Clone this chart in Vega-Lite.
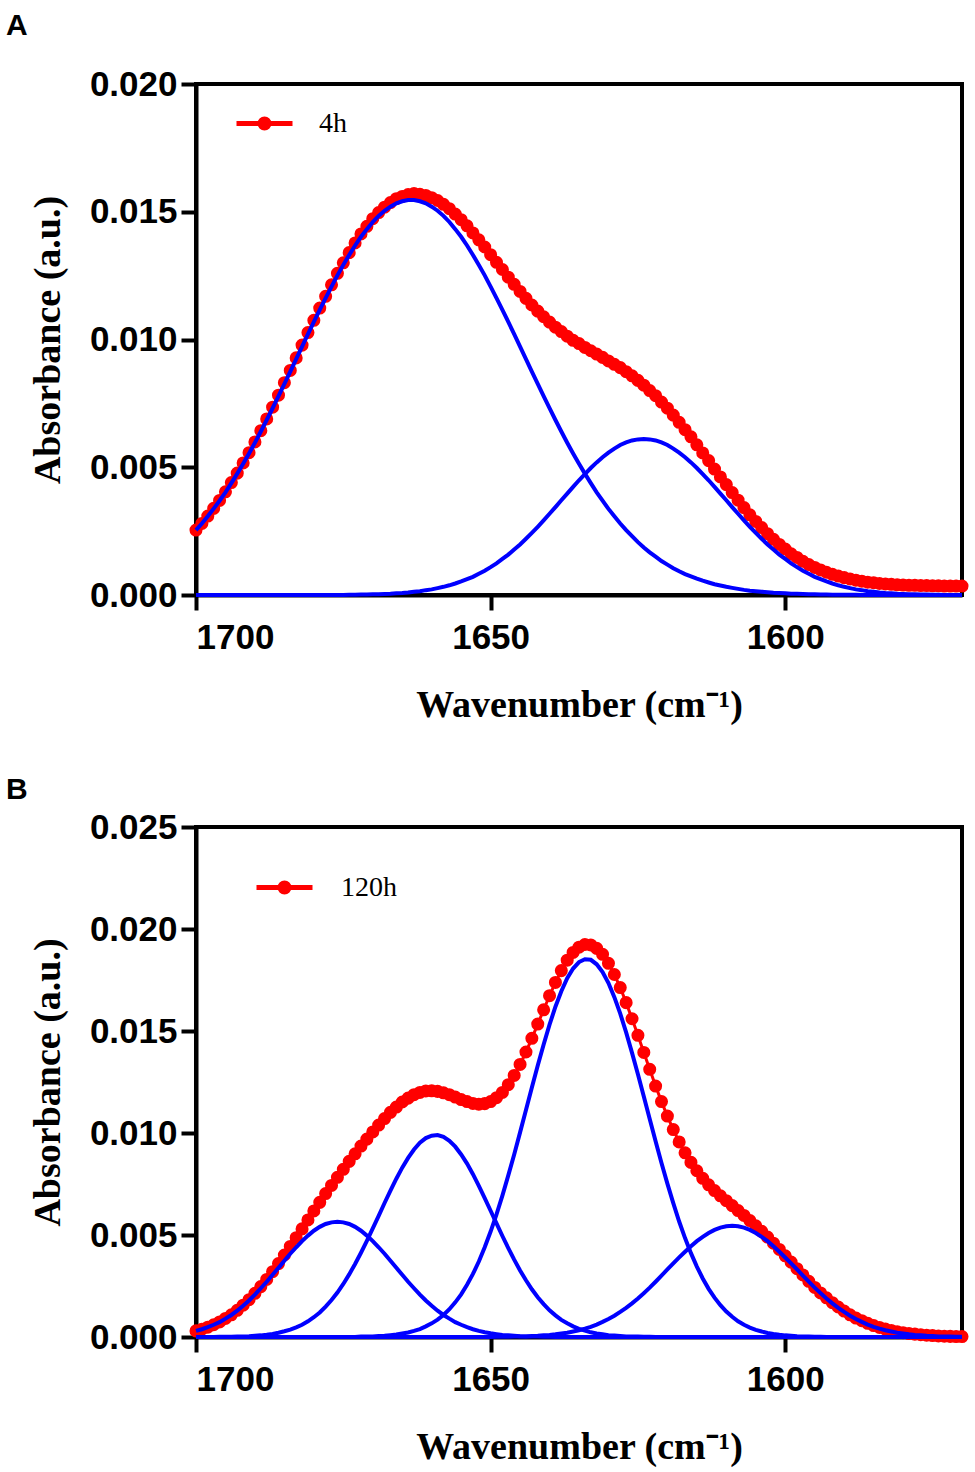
{
  "$schema": "https://vega.github.io/schema/vega-lite/v6.json",
  "padding": {"left": 4, "top": 9, "right": 5, "bottom": 0},
  "background": "white",
  "config": {
    "view": {"stroke": "black", "strokeWidth": 4},
    "font": "Liberation Sans",
    "axis": {
      "grid": false, "domainColor": "black", "domainWidth": 4,
      "tickColor": "black", "tickWidth": 4, "tickSize": 15,
      "labelFont": "Liberation Sans", "labelFontWeight": "bold", "labelFontSize": 35, "labelColor": "black",
      "titleFont": "Liberation Serif", "titleFontWeight": "bold", "titleFontSize": 38, "titleColor": "black"
    },
    "axisX": {"labelPadding": 10, "titlePadding": 31},
    "axisY": {"labelPadding": 4, "titlePadding": 22},
    "title": {"font": "Liberation Sans", "fontWeight": "bold", "fontSize": 30, "anchor": "start", "frame": "group", "dx": -190, "color": "black"},
    "legend": {
      "title": null,
      "labelFont": "Liberation Serif", "labelFontWeight": "normal", "labelFontSize": 28, "labelColor": "black",
      "symbolType": "M-1,0H1M0.16,0A0.16,0.16,0,1,1,-0.16,0A0.16,0.16,0,1,1,0.16,0Z",
      "symbolSize": 3136, "symbolStrokeWidth": 5, "symbolFillColor": "#ff0000", "symbolStrokeColor": "#ff0000",
      "orient": "none", "padding": 0
    }
  },
  "datasets": {
    "a": [
      {"w":1700,"red":0.00254,"g1":0.00254,"g2":0},
      {"w":1699,"red":0.00280,"g1":0.00280,"g2":0},
      {"w":1698,"red":0.00309,"g1":0.00308,"g2":0},
      {"w":1697,"red":0.00339,"g1":0.00338,"g2":0},
      {"w":1696,"red":0.00370,"g1":0.00369,"g2":0},
      {"w":1695,"red":0.00404,"g1":0.00402,"g2":0},
      {"w":1694,"red":0.00440,"g1":0.00438,"g2":0},
      {"w":1693,"red":0.00477,"g1":0.00475,"g2":0},
      {"w":1692,"red":0.00517,"g1":0.00514,"g2":0},
      {"w":1691,"red":0.00557,"g1":0.00554,"g2":0},
      {"w":1690,"red":0.00599,"g1":0.00596,"g2":0},
      {"w":1689,"red":0.00643,"g1":0.00640,"g2":0},
      {"w":1688,"red":0.00689,"g1":0.00685,"g2":0},
      {"w":1687,"red":0.00735,"g1":0.00731,"g2":0},
      {"w":1686,"red":0.00782,"g1":0.00778,"g2":0},
      {"w":1685,"red":0.00831,"g1":0.00826,"g2":0},
      {"w":1684,"red":0.00879,"g1":0.00874,"g2":0},
      {"w":1683,"red":0.00928,"g1":0.00923,"g2":0},
      {"w":1682,"red":0.00978,"g1":0.00972,"g2":0},
      {"w":1681,"red":0.01027,"g1":0.01021,"g2":0},
      {"w":1680,"red":0.01075,"g1":0.01069,"g2":0},
      {"w":1679,"red":0.01123,"g1":0.01116,"g2":0},
      {"w":1678,"red":0.01169,"g1":0.01162,"g2":0},
      {"w":1677,"red":0.01214,"g1":0.01207,"g2":0},
      {"w":1676,"red":0.01259,"g1":0.01251,"g2":0},
      {"w":1675,"red":0.01300,"g1":0.01292,"g2":0},
      {"w":1674,"red":0.01340,"g1":0.01331,"g2":0.00001},
      {"w":1673,"red":0.01378,"g1":0.01368,"g2":0.00001},
      {"w":1672,"red":0.01413,"g1":0.01402,"g2":0.00002},
      {"w":1671,"red":0.01443,"g1":0.01432,"g2":0.00002},
      {"w":1670,"red":0.01473,"g1":0.01460,"g2":0.00003},
      {"w":1669,"red":0.01497,"g1":0.01484,"g2":0.00003},
      {"w":1668,"red":0.01518,"g1":0.01504,"g2":0.00004},
      {"w":1667,"red":0.01536,"g1":0.01520,"g2":0.00005},
      {"w":1666,"red":0.01551,"g1":0.01533,"g2":0.00007},
      {"w":1665,"red":0.01560,"g1":0.01541,"g2":0.00008},
      {"w":1664,"red":0.01567,"g1":0.01546,"g2":0.00010},
      {"w":1663,"red":0.01571,"g1":0.01546,"g2":0.00013},
      {"w":1662,"red":0.01568,"g1":0.01541,"g2":0.00015},
      {"w":1661,"red":0.01564,"g1":0.01533,"g2":0.00019},
      {"w":1660,"red":0.01555,"g1":0.01520,"g2":0.00022},
      {"w":1659,"red":0.01544,"g1":0.01504,"g2":0.00027},
      {"w":1658,"red":0.01529,"g1":0.01484,"g2":0.00032},
      {"w":1657,"red":0.01512,"g1":0.01460,"g2":0.00038},
      {"w":1656,"red":0.01491,"g1":0.01432,"g2":0.00045},
      {"w":1655,"red":0.01469,"g1":0.01402,"g2":0.00053},
      {"w":1654,"red":0.01445,"g1":0.01368,"g2":0.00062},
      {"w":1653,"red":0.01417,"g1":0.01331,"g2":0.00071},
      {"w":1652,"red":0.01390,"g1":0.01292,"g2":0.00083},
      {"w":1651,"red":0.01362,"g1":0.01251,"g2":0.00095},
      {"w":1650,"red":0.01332,"g1":0.01207,"g2":0.00109},
      {"w":1649,"red":0.01302,"g1":0.01162,"g2":0.00124},
      {"w":1648,"red":0.01274,"g1":0.01116,"g2":0.00141},
      {"w":1647,"red":0.01244,"g1":0.01069,"g2":0.00158},
      {"w":1646,"red":0.01216,"g1":0.01021,"g2":0.00178},
      {"w":1645,"red":0.01188,"g1":0.00972,"g2":0.00198},
      {"w":1644,"red":0.01161,"g1":0.00923,"g2":0.00220},
      {"w":1643,"red":0.01135,"g1":0.00874,"g2":0.00243},
      {"w":1642,"red":0.01111,"g1":0.00826,"g2":0.00267},
      {"w":1641,"red":0.01089,"g1":0.00778,"g2":0.00292},
      {"w":1640,"red":0.01068,"g1":0.00731,"g2":0.00318},
      {"w":1639,"red":0.01048,"g1":0.00685,"g2":0.00344},
      {"w":1638,"red":0.01031,"g1":0.00640,"g2":0.00371},
      {"w":1637,"red":0.01013,"g1":0.00596,"g2":0.00397},
      {"w":1636,"red":0.00997,"g1":0.00554,"g2":0.00423},
      {"w":1635,"red":0.00984,"g1":0.00514,"g2":0.00449},
      {"w":1634,"red":0.00969,"g1":0.00475,"g2":0.00473},
      {"w":1633,"red":0.00956,"g1":0.00438,"g2":0.00497},
      {"w":1632,"red":0.00943,"g1":0.00402,"g2":0.00519},
      {"w":1631,"red":0.00930,"g1":0.00369,"g2":0.00539},
      {"w":1630,"red":0.00916,"g1":0.00337,"g2":0.00557},
      {"w":1629,"red":0.00903,"g1":0.00308,"g2":0.00573},
      {"w":1628,"red":0.00890,"g1":0.00280,"g2":0.00587},
      {"w":1627,"red":0.00874,"g1":0.00254,"g2":0.00597},
      {"w":1626,"red":0.00858,"g1":0.00230,"g2":0.00605},
      {"w":1625,"red":0.00840,"g1":0.00207,"g2":0.00609},
      {"w":1624,"red":0.00821,"g1":0.00186,"g2":0.00611},
      {"w":1623,"red":0.00800,"g1":0.00167,"g2":0.00609},
      {"w":1622,"red":0.00780,"g1":0.00150,"g2":0.00605},
      {"w":1621,"red":0.00755,"g1":0.00133,"g2":0.00597},
      {"w":1620,"red":0.00731,"g1":0.00119,"g2":0.00587},
      {"w":1619,"red":0.00704,"g1":0.00105,"g2":0.00573},
      {"w":1618,"red":0.00676,"g1":0.00093,"g2":0.00557},
      {"w":1617,"red":0.00647,"g1":0.00082,"g2":0.00539},
      {"w":1616,"red":0.00619,"g1":0.00073,"g2":0.00519},
      {"w":1615,"red":0.00588,"g1":0.00064,"g2":0.00497},
      {"w":1614,"red":0.00556,"g1":0.00056,"g2":0.00473},
      {"w":1613,"red":0.00526,"g1":0.00049,"g2":0.00449},
      {"w":1612,"red":0.00493,"g1":0.00042,"g2":0.00423},
      {"w":1611,"red":0.00462,"g1":0.00037,"g2":0.00397},
      {"w":1610,"red":0.00432,"g1":0.00032,"g2":0.00371},
      {"w":1609,"red":0.00401,"g1":0.00028,"g2":0.00344},
      {"w":1608,"red":0.00371,"g1":0.00024,"g2":0.00318},
      {"w":1607,"red":0.00342,"g1":0.00020,"g2":0.00292},
      {"w":1606,"red":0.00314,"g1":0.00017,"g2":0.00267},
      {"w":1605,"red":0.00288,"g1":0.00015,"g2":0.00243},
      {"w":1604,"red":0.00264,"g1":0.00013,"g2":0.00220},
      {"w":1603,"red":0.00240,"g1":0.00011,"g2":0.00198},
      {"w":1602,"red":0.00218,"g1":0.00009,"g2":0.00178},
      {"w":1601,"red":0.00198,"g1":0.00008,"g2":0.00158},
      {"w":1600,"red":0.00180,"g1":0.00007,"g2":0.00141},
      {"w":1599,"red":0.00161,"g1":0.00005,"g2":0.00124},
      {"w":1598,"red":0.00147,"g1":0.00005,"g2":0.00109},
      {"w":1597,"red":0.00132,"g1":0.00004,"g2":0.00095},
      {"w":1596,"red":0.00119,"g1":0.00003,"g2":0.00083},
      {"w":1595,"red":0.00108,"g1":0.00003,"g2":0.00071},
      {"w":1594,"red":0.00098,"g1":0.00002,"g2":0.00062},
      {"w":1593,"red":0.00089,"g1":0.00002,"g2":0.00053},
      {"w":1592,"red":0.00081,"g1":0.00001,"g2":0.00045},
      {"w":1591,"red":0.00074,"g1":0.00001,"g2":0.00038},
      {"w":1590,"red":0.00068,"g1":0.00001,"g2":0.00032},
      {"w":1589,"red":0.00063,"g1":0.00001,"g2":0.00027},
      {"w":1588,"red":0.00058,"g1":0.00001,"g2":0.00022},
      {"w":1587,"red":0.00054,"g1":0,"g2":0.00019},
      {"w":1586,"red":0.00050,"g1":0,"g2":0.00015},
      {"w":1585,"red":0.00048,"g1":0,"g2":0.00013},
      {"w":1584,"red":0.00045,"g1":0,"g2":0.00010},
      {"w":1583,"red":0.00043,"g1":0,"g2":0.00008},
      {"w":1582,"red":0.00042,"g1":0,"g2":0.00007},
      {"w":1581,"red":0.00040,"g1":0,"g2":0.00005},
      {"w":1580,"red":0.00039,"g1":0,"g2":0.00004},
      {"w":1579,"red":0.00038,"g1":0,"g2":0.00003},
      {"w":1578,"red":0.00038,"g1":0,"g2":0.00003},
      {"w":1577,"red":0.00037,"g1":0,"g2":0.00002},
      {"w":1576,"red":0.00037,"g1":0,"g2":0.00002},
      {"w":1575,"red":0.00036,"g1":0,"g2":0.00001},
      {"w":1574,"red":0.00036,"g1":0,"g2":0.00001},
      {"w":1573,"red":0.00035,"g1":0,"g2":0},
      {"w":1572,"red":0.00035,"g1":0,"g2":0},
      {"w":1571,"red":0.00035,"g1":0,"g2":0},
      {"w":1570,"red":0.00035,"g1":0,"g2":0}
    ],
    "b": [
      {"w":1700,"red":0.00030,"g1":0.00030,"g2":0,"g3":0,"g4":0},
      {"w":1699,"red":0.00038,"g1":0.00038,"g2":0,"g3":0,"g4":0},
      {"w":1698,"red":0.00048,"g1":0.00048,"g2":0,"g3":0,"g4":0},
      {"w":1697,"red":0.00060,"g1":0.00060,"g2":0,"g3":0,"g4":0},
      {"w":1696,"red":0.00074,"g1":0.00073,"g2":0.00001,"g3":0,"g4":0},
      {"w":1695,"red":0.00091,"g1":0.00090,"g2":0.00001,"g3":0,"g4":0},
      {"w":1694,"red":0.00109,"g1":0.00108,"g2":0.00001,"g3":0,"g4":0},
      {"w":1693,"red":0.00131,"g1":0.00129,"g2":0.00002,"g3":0,"g4":0},
      {"w":1692,"red":0.00156,"g1":0.00153,"g2":0.00003,"g3":0,"g4":0},
      {"w":1691,"red":0.00183,"g1":0.00179,"g2":0.00004,"g3":0,"g4":0},
      {"w":1690,"red":0.00214,"g1":0.00208,"g2":0.00006,"g3":0,"g4":0},
      {"w":1689,"red":0.00247,"g1":0.00239,"g2":0.00008,"g3":0,"g4":0},
      {"w":1688,"red":0.00282,"g1":0.00271,"g2":0.00011,"g3":0,"g4":0},
      {"w":1687,"red":0.00320,"g1":0.00305,"g2":0.00015,"g3":0,"g4":0},
      {"w":1686,"red":0.00360,"g1":0.00339,"g2":0.00021,"g3":0,"g4":0},
      {"w":1685,"red":0.00402,"g1":0.00374,"g2":0.00028,"g3":0,"g4":0},
      {"w":1684,"red":0.00444,"g1":0.00408,"g2":0.00036,"g3":0,"g4":0},
      {"w":1683,"red":0.00487,"g1":0.00440,"g2":0.00047,"g3":0,"g4":0},
      {"w":1682,"red":0.00530,"g1":0.00470,"g2":0.00060,"g3":0,"g4":0},
      {"w":1681,"red":0.00574,"g1":0.00497,"g2":0.00077,"g3":0,"g4":0},
      {"w":1680,"red":0.00618,"g1":0.00521,"g2":0.00097,"g3":0,"g4":0},
      {"w":1679,"red":0.00660,"g1":0.00540,"g2":0.00120,"g3":0,"g4":0},
      {"w":1678,"red":0.00703,"g1":0.00554,"g2":0.00149,"g3":0,"g4":0},
      {"w":1677,"red":0.00743,"g1":0.00562,"g2":0.00181,"g3":0,"g4":0},
      {"w":1676,"red":0.00783,"g1":0.00565,"g2":0.00218,"g3":0,"g4":0},
      {"w":1675,"red":0.00822,"g1":0.00562,"g2":0.00260,"g3":0,"g4":0},
      {"w":1674,"red":0.00861,"g1":0.00554,"g2":0.00307,"g3":0,"g4":0},
      {"w":1673,"red":0.00898,"g1":0.00540,"g2":0.00358,"g3":0,"g4":0},
      {"w":1672,"red":0.00936,"g1":0.00521,"g2":0.00413,"g3":0.00002,"g4":0},
      {"w":1671,"red":0.00970,"g1":0.00497,"g2":0.00471,"g3":0.00002,"g4":0},
      {"w":1670,"red":0.01005,"g1":0.00470,"g2":0.00532,"g3":0.00003,"g4":0},
      {"w":1669,"red":0.01039,"g1":0.00440,"g2":0.00594,"g3":0.00005,"g4":0},
      {"w":1668,"red":0.01071,"g1":0.00408,"g2":0.00657,"g3":0.00006,"g4":0},
      {"w":1667,"red":0.01101,"g1":0.00374,"g2":0.00718,"g3":0.00009,"g4":0},
      {"w":1666,"red":0.01127,"g1":0.00339,"g2":0.00776,"g3":0.00012,"g4":0},
      {"w":1665,"red":0.01152,"g1":0.00305,"g2":0.00830,"g3":0.00017,"g4":0},
      {"w":1664,"red":0.01171,"g1":0.00271,"g2":0.00878,"g3":0.00022,"g4":0},
      {"w":1663,"red":0.01188,"g1":0.00239,"g2":0.00919,"g3":0.00030,"g4":0},
      {"w":1662,"red":0.01199,"g1":0.00208,"g2":0.00952,"g3":0.00039,"g4":0},
      {"w":1661,"red":0.01206,"g1":0.00179,"g2":0.00975,"g3":0.00052,"g4":0},
      {"w":1660,"red":0.01207,"g1":0.00153,"g2":0.00987,"g3":0.00067,"g4":0},
      {"w":1659,"red":0.01204,"g1":0.00129,"g2":0.00990,"g3":0.00085,"g4":0},
      {"w":1658,"red":0.01197,"g1":0.00108,"g2":0.00981,"g3":0.00108,"g4":0},
      {"w":1657,"red":0.01188,"g1":0.00090,"g2":0.00962,"g3":0.00136,"g4":0},
      {"w":1656,"red":0.01176,"g1":0.00073,"g2":0.00933,"g3":0.00170,"g4":0},
      {"w":1655,"red":0.01164,"g1":0.00060,"g2":0.00895,"g3":0.00209,"g4":0},
      {"w":1654,"red":0.01154,"g1":0.00048,"g2":0.00850,"g3":0.00256,"g4":0},
      {"w":1653,"red":0.01145,"g1":0.00038,"g2":0.00798,"g3":0.00309,"g4":0},
      {"w":1652,"red":0.01141,"g1":0.00030,"g2":0.00741,"g3":0.00370,"g4":0},
      {"w":1651,"red":0.01144,"g1":0.00023,"g2":0.00681,"g3":0.00440,"g4":0},
      {"w":1650,"red":0.01154,"g1":0.00018,"g2":0.00619,"g3":0.00517,"g4":0},
      {"w":1649,"red":0.01173,"g1":0.00014,"g2":0.00557,"g3":0.00601,"g4":0.00001},
      {"w":1648,"red":0.01199,"g1":0.00010,"g2":0.00495,"g3":0.00693,"g4":0.00001},
      {"w":1647,"red":0.01237,"g1":0.00008,"g2":0.00436,"g3":0.00792,"g4":0.00001},
      {"w":1646,"red":0.01282,"g1":0.00006,"g2":0.00379,"g3":0.00895,"g4":0.00002},
      {"w":1645,"red":0.01336,"g1":0.00004,"g2":0.00326,"g3":0.01003,"g4":0.00003},
      {"w":1644,"red":0.01397,"g1":0.00003,"g2":0.00278,"g3":0.01113,"g4":0.00003},
      {"w":1643,"red":0.01464,"g1":0.00002,"g2":0.00234,"g3":0.01223,"g4":0.00005},
      {"w":1642,"red":0.01534,"g1":0.00002,"g2":0.00195,"g3":0.01331,"g4":0.00006},
      {"w":1641,"red":0.01604,"g1":0.00001,"g2":0.00161,"g3":0.01434,"g4":0.00008},
      {"w":1640,"red":0.01673,"g1":0.00001,"g2":0.00131,"g3":0.01531,"g4":0.00010},
      {"w":1639,"red":0.01738,"g1":0,"g2":0.00106,"g3":0.01619,"g4":0.00013},
      {"w":1638,"red":0.01796,"g1":0,"g2":0.00084,"g3":0.01695,"g4":0.00017},
      {"w":1637,"red":0.01847,"g1":0,"g2":0.00067,"g3":0.01759,"g4":0.00021},
      {"w":1636,"red":0.01885,"g1":0,"g2":0.00052,"g3":0.01806,"g4":0.00027},
      {"w":1635,"red":0.01911,"g1":0,"g2":0.00040,"g3":0.01838,"g4":0.00033},
      {"w":1634,"red":0.01924,"g1":0,"g2":0.00031,"g3":0.01852,"g4":0.00041},
      {"w":1633,"red":0.01922,"g1":0,"g2":0.00023,"g3":0.01849,"g4":0.00050},
      {"w":1632,"red":0.01905,"g1":0,"g2":0.00017,"g3":0.01827,"g4":0.00061},
      {"w":1631,"red":0.01876,"g1":0,"g2":0.00013,"g3":0.01789,"g4":0.00074},
      {"w":1630,"red":0.01832,"g1":0,"g2":0.00009,"g3":0.01735,"g4":0.00088},
      {"w":1629,"red":0.01777,"g1":0,"g2":0.00007,"g3":0.01666,"g4":0.00104},
      {"w":1628,"red":0.01713,"g1":0,"g2":0.00005,"g3":0.01585,"g4":0.00123},
      {"w":1627,"red":0.01639,"g1":0,"g2":0.00003,"g3":0.01493,"g4":0.00143},
      {"w":1626,"red":0.01560,"g1":0,"g2":0.00002,"g3":0.01393,"g4":0.00165},
      {"w":1625,"red":0.01479,"g1":0,"g2":0.00002,"g3":0.01288,"g4":0.00189},
      {"w":1624,"red":0.01395,"g1":0,"g2":0.00001,"g3":0.01179,"g4":0.00215},
      {"w":1623,"red":0.01312,"g1":0,"g2":0.00001,"g3":0.01069,"g4":0.00242},
      {"w":1622,"red":0.01230,"g1":0,"g2":0,"g3":0.00959,"g4":0.00271},
      {"w":1621,"red":0.01154,"g1":0,"g2":0,"g3":0.00853,"g4":0.00301},
      {"w":1620,"red":0.01083,"g1":0,"g2":0,"g3":0.00752,"g4":0.00331},
      {"w":1619,"red":0.01017,"g1":0,"g2":0,"g3":0.00656,"g4":0.00361},
      {"w":1618,"red":0.00956,"g1":0,"g2":0,"g3":0.00566,"g4":0.00390},
      {"w":1617,"red":0.00903,"g1":0,"g2":0,"g3":0.00485,"g4":0.00418},
      {"w":1616,"red":0.00856,"g1":0,"g2":0,"g3":0.00411,"g4":0.00445},
      {"w":1615,"red":0.00815,"g1":0,"g2":0,"g3":0.00345,"g4":0.00470},
      {"w":1614,"red":0.00778,"g1":0,"g2":0,"g3":0.00287,"g4":0.00491},
      {"w":1613,"red":0.00746,"g1":0,"g2":0,"g3":0.00236,"g4":0.00510},
      {"w":1612,"red":0.00718,"g1":0,"g2":0,"g3":0.00193,"g4":0.00525},
      {"w":1611,"red":0.00692,"g1":0,"g2":0,"g3":0.00156,"g4":0.00536},
      {"w":1610,"red":0.00668,"g1":0,"g2":0,"g3":0.00125,"g4":0.00543},
      {"w":1609,"red":0.00644,"g1":0,"g2":0,"g3":0.00099,"g4":0.00545},
      {"w":1608,"red":0.00620,"g1":0,"g2":0,"g3":0.00077,"g4":0.00543},
      {"w":1607,"red":0.00596,"g1":0,"g2":0,"g3":0.00060,"g4":0.00536},
      {"w":1606,"red":0.00571,"g1":0,"g2":0,"g3":0.00046,"g4":0.00525},
      {"w":1605,"red":0.00545,"g1":0,"g2":0,"g3":0.00035,"g4":0.00510},
      {"w":1604,"red":0.00518,"g1":0,"g2":0,"g3":0.00027,"g4":0.00491},
      {"w":1603,"red":0.00490,"g1":0,"g2":0,"g3":0.00020,"g4":0.00470},
      {"w":1602,"red":0.00460,"g1":0,"g2":0,"g3":0.00015,"g4":0.00445},
      {"w":1601,"red":0.00429,"g1":0,"g2":0,"g3":0.00011,"g4":0.00418},
      {"w":1600,"red":0.00398,"g1":0,"g2":0,"g3":0.00008,"g4":0.00390},
      {"w":1599,"red":0.00367,"g1":0,"g2":0,"g3":0.00006,"g4":0.00361},
      {"w":1598,"red":0.00335,"g1":0,"g2":0,"g3":0.00004,"g4":0.00331},
      {"w":1597,"red":0.00304,"g1":0,"g2":0,"g3":0.00003,"g4":0.00301},
      {"w":1596,"red":0.00273,"g1":0,"g2":0,"g3":0.00002,"g4":0.00271},
      {"w":1595,"red":0.00243,"g1":0,"g2":0,"g3":0.00001,"g4":0.00242},
      {"w":1594,"red":0.00216,"g1":0,"g2":0,"g3":0.00001,"g4":0.00215},
      {"w":1593,"red":0.00192,"g1":0,"g2":0,"g3":0,"g4":0.00189},
      {"w":1592,"red":0.00168,"g1":0,"g2":0,"g3":0,"g4":0.00165},
      {"w":1591,"red":0.00147,"g1":0,"g2":0,"g3":0,"g4":0.00143},
      {"w":1590,"red":0.00127,"g1":0,"g2":0,"g3":0,"g4":0.00123},
      {"w":1589,"red":0.00109,"g1":0,"g2":0,"g3":0,"g4":0.00104},
      {"w":1588,"red":0.00093,"g1":0,"g2":0,"g3":0,"g4":0.00088},
      {"w":1587,"red":0.00080,"g1":0,"g2":0,"g3":0,"g4":0.00074},
      {"w":1586,"red":0.00067,"g1":0,"g2":0,"g3":0,"g4":0.00061},
      {"w":1585,"red":0.00056,"g1":0,"g2":0,"g3":0,"g4":0.00050},
      {"w":1584,"red":0.00047,"g1":0,"g2":0,"g3":0,"g4":0.00041},
      {"w":1583,"red":0.00039,"g1":0,"g2":0,"g3":0,"g4":0.00033},
      {"w":1582,"red":0.00032,"g1":0,"g2":0,"g3":0,"g4":0.00027},
      {"w":1581,"red":0.00026,"g1":0,"g2":0,"g3":0,"g4":0.00021},
      {"w":1580,"red":0.00021,"g1":0,"g2":0,"g3":0,"g4":0.00017},
      {"w":1579,"red":0.00017,"g1":0,"g2":0,"g3":0,"g4":0.00013},
      {"w":1578,"red":0.00014,"g1":0,"g2":0,"g3":0,"g4":0.00010},
      {"w":1577,"red":0.00011,"g1":0,"g2":0,"g3":0,"g4":0.00008},
      {"w":1576,"red":0.00009,"g1":0,"g2":0,"g3":0,"g4":0.00006},
      {"w":1575,"red":0.00007,"g1":0,"g2":0,"g3":0,"g4":0.00005},
      {"w":1574,"red":0.00005,"g1":0,"g2":0,"g3":0,"g4":0.00003},
      {"w":1573,"red":0.00004,"g1":0,"g2":0,"g3":0,"g4":0.00003},
      {"w":1572,"red":0.00003,"g1":0,"g2":0,"g3":0,"g4":0.00002},
      {"w":1571,"red":0.00002,"g1":0,"g2":0,"g3":0,"g4":0.00001},
      {"w":1570,"red":0.00002,"g1":0,"g2":0,"g3":0,"g4":0.00001}
    ]
  },
  "spacing": 47,
  "resolve": {"scale": {"x": "independent", "y": "independent", "color": "independent"}, "legend": {"color": "independent"}},
  "vconcat": [
    {
      "title": {"text": "A", "offset": 26},
      "width": 766, "height": 511,
      "data": {"name": "a"},
      "layer": [
        {
          "mark": {"type": "line", "strokeWidth": 3, "point": {"filled": true, "size": 170}},
          "encoding": {
            "x": {"field": "w", "type": "quantitative", "title": "Wavenumber (cm⁻¹)",
                  "scale": {"domain": [1570, 1700], "reverse": true, "nice": false, "zero": false},
                  "axis": {"values": [1700, 1650, 1600], "format": "d"}},
            "y": {"field": "red", "type": "quantitative", "title": "Absorbance (a.u.)",
                  "scale": {"domain": [0, 0.02], "nice": false},
                  "axis": {"values": [0, 0.005, 0.01, 0.015, 0.02], "format": ".3f"}},
            "color": {"datum": "4h", "scale": {"domain": ["4h"], "range": ["#ff0000"]},
                      "legend": {"legendX": 38, "legendY": 9, "labelOffset": 24}}
          }
        },
        {
          "transform": [{"fold": ["g1", "g2"], "as": ["peak", "val"]}],
          "mark": {"type": "line", "color": "#0000ff", "strokeWidth": 4},
          "encoding": {
            "x": {"field": "w", "type": "quantitative", "title": "Wavenumber (cm⁻¹)"},
            "y": {"field": "val", "type": "quantitative", "title": "Absorbance (a.u.)"},
            "detail": {"field": "peak"}
          }
        }
      ]
    },
    {
      "title": {"text": "B", "offset": 5},
      "width": 766, "height": 510,
      "data": {"name": "b"},
      "layer": [
        {
          "mark": {"type": "line", "strokeWidth": 3, "point": {"filled": true, "size": 170}},
          "encoding": {
            "x": {"field": "w", "type": "quantitative", "title": "Wavenumber (cm⁻¹)",
                  "scale": {"domain": [1570, 1700], "reverse": true, "nice": false, "zero": false},
                  "axis": {"values": [1700, 1650, 1600], "format": "d"}},
            "y": {"field": "red", "type": "quantitative", "title": "Absorbance (a.u.)",
                  "scale": {"domain": [0, 0.025], "nice": false},
                  "axis": {"values": [0, 0.005, 0.01, 0.015, 0.02, 0.025], "format": ".3f"}},
            "color": {"datum": "120h", "scale": {"domain": ["120h"], "range": ["#ff0000"]},
                      "legend": {"legendX": 58, "legendY": 30, "labelOffset": 26}}
          }
        },
        {
          "transform": [{"fold": ["g1", "g2", "g3", "g4"], "as": ["peak", "val"]}],
          "mark": {"type": "line", "color": "#0000ff", "strokeWidth": 4},
          "encoding": {
            "x": {"field": "w", "type": "quantitative", "title": "Wavenumber (cm⁻¹)"},
            "y": {"field": "val", "type": "quantitative", "title": "Absorbance (a.u.)"},
            "detail": {"field": "peak"}
          }
        }
      ]
    }
  ]
}
